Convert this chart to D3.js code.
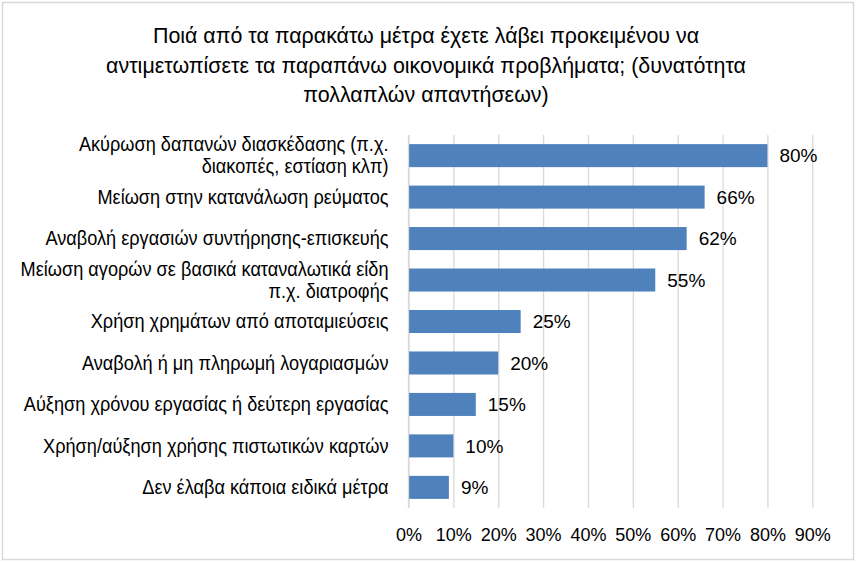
<!DOCTYPE html>
<html>
<head>
<meta charset="utf-8">
<script src="https://cdn.jsdelivr.net/npm/d3@7"></script>
<style>
  body { margin: 0; background: #fff; }
  text { font-family: "Liberation Sans", Arial, sans-serif; fill: #000; }
</style>
</head>
<body>
<div id="chart"></div>
<script>
// data
const titleLines = [
    'Ποιά από τα παρακάτω μέτρα έχετε λάβει προκειμένου να',
    'αντιμετωπίσετε τα παραπάνω οικονομικά προβλήματα; (δυνατότητα',
    'πολλαπλών απαντήσεων)'
];
const categories = [
    'Ακύρωση δαπανών διασκέδασης (π.χ.\nδιακοπές, εστίαση κλπ)',
    'Μείωση στην κατανάλωση ρεύματος',
    'Αναβολή εργασιών συντήρησης-επισκευής',
    'Μείωση αγορών σε βασικά καταναλωτικά είδη\nπ.χ. διατροφής',
    'Χρήση χρημάτων από αποταμιεύσεις',
    'Αναβολή ή μη πληρωμή λογαριασμών',
    'Αύξηση χρόνου εργασίας ή δεύτερη εργασίας',
    'Χρήση/αύξηση χρήσης πιστωτικών καρτών',
    'Δεν έλαβα κάποια ειδικά μέτρα'
];
const values = [0.80, 0.66, 0.62, 0.55, 0.25, 0.20, 0.15, 0.10, 0.09];
const xTicks = [0, 0.1, 0.2, 0.3, 0.4, 0.5, 0.6, 0.7, 0.8, 0.9];

const svg_width = 856;
const svg_height = 563;
const margin = { top: 135, right: 44, bottom: 55, left: 408.5 };
const chart_width = 403.8;
const chart_height = svg_height - margin.top - margin.bottom;

const svg = d3.select('#chart').append('svg')
    .attr('width', svg_width).attr('height', svg_height);

// outer border
svg.append('rect')
    .attr('x', 2.5).attr('y', 2.5)
    .attr('width', svg_width - 5).attr('height', svg_height - 6)
    .style('fill', '#fff').style('stroke', '#d9d9d9').style('stroke-width', 1.5);

// title (slightly condensed, like the original)
svg.append('text')
    .attr('text-anchor', 'middle')
    .attr('transform', 'translate(426,0) scale(0.96,1)')
    .style('font-size', '22.3px')
    .selectAll('tspan')
    .data(titleLines)
    .enter()
    .append('tspan')
    .attr('x', 0)
    .attr('y', (d, i) => 43 + i * 29.7)
    .text(d => d);

const g = svg.append('g')
    .attr('transform', `translate(${margin.left},${margin.top})`);

// scales
const xScale = d3.scaleLinear().domain([0, 0.9]).range([0, chart_width]);
const yScale = d3.scaleBand().domain(categories).range([0, chart_height])
    .paddingInner(0.445).paddingOuter(0.22);

// gridlines + axis
const xAxis = d3.axisBottom(xScale)
    .tickValues(xTicks)
    .tickFormat(d3.format('.0%'))
    .tickSizeInner(-chart_height)
    .tickSizeOuter(0);
const xAxisDraw = g.append('g').attr('class', 'x axis')
    .attr('transform', `translate(0,${chart_height})`)
    .call(xAxis);
xAxisDraw.select('.domain').remove();
xAxisDraw.selectAll('.tick line').style('stroke', '#d9d9d9').style('stroke-width', 1.3);
xAxisDraw.selectAll('.tick text')
    .attr('y', 27)
    .attr('dy', '0.35em')
    .style('font-size', '18px')
    .style('font-family', '"Liberation Sans", Arial, sans-serif')
    .style('fill', '#000');

// bars
g.selectAll('.bar')
    .data(values)
    .enter()
    .append('rect')
    .attr('class', 'bar')
    .attr('x', 0)
    .attr('y', (d, i) => yScale(categories[i]))
    .attr('width', d => xScale(d))
    .attr('height', yScale.bandwidth())
    .style('fill', '#4f81bd');

// value labels
g.selectAll('.value')
    .data(values)
    .enter()
    .append('text')
    .attr('class', 'value')
    .attr('x', d => xScale(d) + 12)
    .attr('y', (d, i) => yScale(categories[i]) + yScale.bandwidth() / 2)
    .attr('dy', '0.36em')
    .style('font-size', '19px')
    .text(d => d3.format('.0%')(d));

// category labels (condensed a bit horizontally)
const lineH = 22;
g.selectAll('.cat')
    .data(categories)
    .enter()
    .append('text')
    .attr('class', 'cat')
    .attr('text-anchor', 'end')
    .attr('transform', d => `translate(-20,${yScale(d) + yScale.bandwidth() / 2}) scale(0.932,1)`)
    .style('font-size', '19.5px')
    .each(function (d) {
        const lines = d.split('\n');
        const sel = d3.select(this);
        lines.forEach((line, i) => {
            sel.append('tspan')
                .attr('x', 0)
                .attr('y', (i - (lines.length - 1) / 2) * lineH)
                .attr('dy', '0.35em')
                .text(line);
        });
    });

// y axis line
g.append('line')
    .attr('x1', 0).attr('x2', 0)
    .attr('y1', 0).attr('y2', chart_height)
    .style('stroke', '#d9d9d9').style('stroke-width', 1.3);
</script>
</body>
</html>
